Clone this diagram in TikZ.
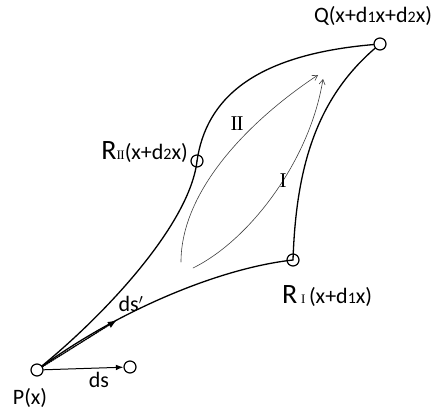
\documentclass[tikz,border=0pt]{standalone}
\usepackage{fontspec}
\setmainfont{Carlito}
\newfontfamily\romanfont{Liberation Serif}
\usetikzlibrary{arrows.meta}

\newcommand{\sub}[1]{{\fontsize{16}{16}\selectfont #1}}
\newcommand{\Rbig}{{\fontsize{28}{28}\selectfont R}}
\newcommand{\rnum}[1]{{\romanfont\fontsize{13}{13}\selectfont #1}}

\begin{document}
\begin{tikzpicture}[
    x=1pt, y=-1pt,
    >=Latex,
    line cap=round,
    line join=round,
    pt/.style={circle, draw, line width=1.2pt, inner sep=0pt, minimum size=12pt},
    edge/.style={line width=1.3pt},
    flow/.style={-{Straight Barb[length=5pt,width=6pt]}, black!75, line width=0.6pt},
    lbl/.style={font=\fontsize{22}{24}\selectfont, inner sep=0pt},
    numlbl/.style={font=\romanfont\fontsize{21}{22}\selectfont, inner sep=0pt}
]

\useasboundingbox (0,0) rectangle (439,414);

% Points
\node[pt] (P)   at (37,370)  {};
\node[pt] (S)   at (130,367) {};
\node[pt] (RII) at (197,161) {};
\node[pt] (RI)  at (293,260) {};
\node[pt] (Q)   at (380,44)  {};

% Ends of the inner arrows
\coordinate (T)   at (117,320);
\coordinate (IIs) at (181,262);
\coordinate (IIe) at (318,75);
\coordinate (Is)  at (193,268);
\coordinate (Ie)  at (323,79);

% Path II
\draw[edge] (P) .. controls (110,310) and (190,222) .. (RII.center);
\draw[edge] (RII.center) .. controls (206,100) and (252,55) .. (Q);

% Path I
\draw[edge] (P) .. controls (120,310) and (220,268) .. (RI.center);
\draw[edge] (RI.center) .. controls (296,170) and (315,100) .. (Q);

% Line elements
\draw[->, line width=1pt] (P) -- (S);
\draw[->, densely dotted, line width=1.4pt] (P) -- (T);

% Inner arrows
\draw[flow] (IIs) .. controls (181,190) and (250,120) .. (IIe);
\draw[flow] (Is) .. controls (250,240) and (310,160) .. (Ie);

% Labels
\node[lbl] (Qlbl) at (373,16) {Q(x+d\sub{1}x+d\sub{2}x)};
\node[lbl, anchor=east] (RIIlbl) at (188,152) {\Rbig\rnum{I\kern-0.5pt I}(x+d\sub{2}x)};
\node[lbl, anchor=west] (RIlbl) at (282,296) {\Rbig\,\rnum{I}\,(x+d\sub{1}x)};
\node[lbl] (Plbl) at (30,398) {P(x)};
\node[lbl] (dslbl) at (99,380) {ds};
\node[lbl] (dsplbl) at (131,304) {ds$'$};
\node[numlbl] (IIlbl) at (237,124) {I\kern-1pt I};
\node[numlbl] (Ilbl) at (283,181) {I};

\end{tikzpicture}
\end{document}
